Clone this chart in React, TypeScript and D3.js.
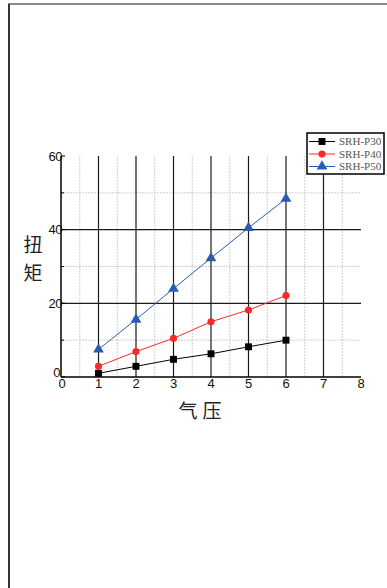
import React from 'react';
import * as d3 from 'd3';

// air pressure (x) vs torque (y)
const pressure = [1, 2, 3, 4, 5, 6];
const p30 = [1.0, 2.9, 4.8, 6.3, 8.2, 10.0];
const p40 = [2.9, 6.9, 10.5, 15.0, 18.2, 22.1];
const p50 = [7.5, 15.6, 24.0, 32.3, 40.5, 48.4];
const seriesNames = ['SRH-P30', 'SRH-P40', 'SRH-P50'];
const xTicks = [0, 1, 2, 3, 4, 5, 6, 7, 8];
const yTicks = [0, 20, 40, 60];

const W = 387;
const H = 588;

const App = () => {
  const x = d3.scaleLinear().domain([0, 8]).range([61, 361]);
  const y = d3.scaleLinear().domain([0, 60]).range([377, 156]);

  const line = d3
    .line<[number, number]>()
    .x(d => x(d[0]))
    .y(d => y(d[1]));

  const series = [
    { name: seriesNames[0], values: p30, color: '#000000', shape: d3.symbolSquare, size: 48 },
    { name: seriesNames[1], values: p40, color: '#f52a2a', shape: d3.symbolCircle, size: 40 },
    { name: seriesNames[2], values: p50, color: '#2b5cb3', shape: d3.symbolTriangle, size: 50 },
  ];

  const minorX = d3.range(0.5, 8, 1);
  const majorX = d3.range(1, 8);
  const minorY = [10, 30, 50];
  const majorY = [20, 40];

  const sym = (s: any, size: number) => d3.symbol().type(s).size(size)() as string;

  return (
    <svg
      width={W}
      height={H}
      style={{ position: 'absolute', left: 0, top: 0, background: '#fff' }}
    >
      {/* page frame */}
      <line x1={8} x2={W} y1={4} y2={4} stroke="#666" strokeWidth={1.5} />
      <line x1={9} x2={9} y1={4} y2={H} stroke="#333" strokeWidth={2} />

      {/* minor grid */}
      {minorX.map(v => (
        <line key={'mx' + v} x1={x(v)} x2={x(v)} y1={y(60)} y2={y(0)}
          stroke="#cfcfcf" strokeWidth={1} strokeDasharray="2,1" />
      ))}
      {minorY.map(v => (
        <line key={'my' + v} x1={x(0)} x2={x(8)} y1={y(v)} y2={y(v)}
          stroke="#cfcfcf" strokeWidth={1} strokeDasharray="2,1" />
      ))}

      {/* major grid */}
      {majorX.map(v => (
        <line key={'Mx' + v} x1={x(v)} x2={x(v)} y1={y(60)} y2={y(0)}
          stroke="#1a1a1a" strokeWidth={1.2} />
      ))}
      {majorY.map(v => (
        <line key={'My' + v} x1={x(0)} x2={x(8)} y1={y(v)} y2={y(v)}
          stroke="#1a1a1a" strokeWidth={1.2} />
      ))}

      {/* axes */}
      <line x1={x(0)} x2={x(0)} y1={y(60)} y2={y(0)} stroke="#000" strokeWidth={1.5} />
      <line x1={x(0)} x2={x(8)} y1={y(0)} y2={y(0)} stroke="#000" strokeWidth={1.5} />
      {d3.range(0, 61, 10).map(v => (
        <line key={'ty' + v} x1={x(0)} x2={x(0) + (v % 20 === 0 ? 4 : 3)} y1={y(v)} y2={y(v)}
          stroke="#000" strokeWidth={1} />
      ))}

      {/* tick labels */}
      <g fontFamily="'Liberation Sans', Arial, sans-serif" fontSize={13} fill="#111">
        {yTicks.map(v => (
          <text key={'yl' + v} x={v === 0 ? x(0) - 1 : x(0) + 1} y={v === 0 ? y(v) - 5 : y(v)} dy="0.35em"
            textAnchor="end" letterSpacing={-0.5}>
            {v}
          </text>
        ))}
        {xTicks.map(v => (
          <text key={'xl' + v} x={v === 0 ? x(v) + 1 : x(v)} y={y(0) + 11} textAnchor="middle">
            {v}
          </text>
        ))}
      </g>

      {/* axis titles */}
      <g fontFamily="'Noto Sans CJK SC', sans-serif" fontSize={19} fill="#222">
        <text x={33} y={245} dy="0.35em" textAnchor="middle">扭</text>
        <text x={33} y={273} dy="0.35em" textAnchor="middle">矩</text>
        <text x={188} y={411} dy="0.35em" textAnchor="middle">气</text>
        <text x={212} y={411} dy="0.35em" textAnchor="middle">压</text>
      </g>

      {/* series */}
      {series.map(s => {
        const pts = pressure.map((p, i) => [p, s.values[i]] as [number, number]);
        return (
          <g key={s.name}>
            <path d={line(pts) as string} fill="none" stroke={s.color} strokeWidth={1} />
            {pts.map((d, i) => (
              <path key={i} d={sym(s.shape, s.size)}
                transform={`translate(${x(d[0])},${y(d[1])})`} fill={s.color} />
            ))}
          </g>
        );
      })}

      {/* legend */}
      <g>
        <rect x={307} y={133} width={77} height={41} fill="#fff" stroke="#000" strokeWidth={1.5} />
        {series.map((s, i) => {
          const ly = 141.5 + i * 12.5;
          return (
            <g key={'lg' + s.name}>
              <line x1={309} x2={335} y1={ly} y2={ly} stroke={s.color} strokeWidth={1} />
              <path d={sym(s.shape, s.size)} transform={`translate(322,${ly})`} fill={s.color} />
              <text x={339} y={ly} dy="0.35em" fontFamily="'Liberation Serif', serif"
                fontSize={11} fill="#555">
                {s.name}
              </text>
            </g>
          );
        })}
      </g>
    </svg>
  );
};

export default App;
